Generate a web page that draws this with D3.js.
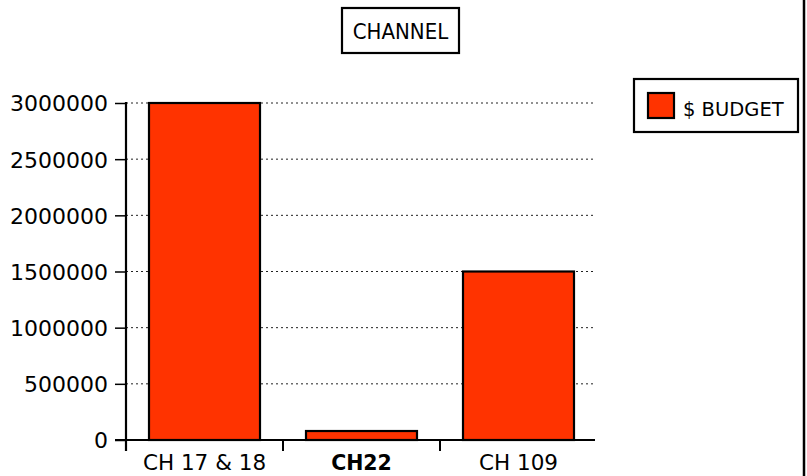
<!DOCTYPE html>
<html><head><meta charset="utf-8">
<script src="https://cdn.jsdelivr.net/npm/d3@7"></script>
<style>
html,body{margin:0;padding:0;background:#fff;}
svg{display:block;font-family:"DejaVu Sans",Verdana,sans-serif;}
</style></head>
<body>
<script>
const categories = ["CH 17 & 18", "CH22", "CH 109"];
const budget = [3000000, 80000, 1500000];
const yTicks = [0, 500000, 1000000, 1500000, 2000000, 2500000, 3000000];
const seriesName = "$ BUDGET";
const title = "CHANNEL";

const W = 807, H = 476;
const svg = d3.select("body").append("svg").attr("width", W).attr("height", H);

const x = d3.scaleBand().domain(categories).range([126, 597]).paddingInner(0.293).paddingOuter(0.1465);
const y = d3.scaleLinear().domain([0, 3000000]).range([440, 103]);

// gridlines
svg.append("g").selectAll("line").data(yTicks.filter(d => d > 0)).join("line")
  .attr("x1", 126).attr("x2", 595)
  .attr("y1", d => y(d)).attr("y2", d => y(d))
  .attr("stroke", "#222").attr("stroke-width", 1).attr("stroke-dasharray", "2,3");

// bars
svg.append("g").selectAll("rect").data(budget).join("rect")
  .attr("x", (d, i) => x(categories[i]))
  .attr("width", x.bandwidth())
  .attr("y", d => y(d))
  .attr("height", d => y(0) - y(d))
  .attr("fill", "#FF3300").attr("stroke", "#000").attr("stroke-width", 2.2);

// y axis
const yAxis = svg.append("g").attr("transform", "translate(126,0)")
  .call(d3.axisLeft(y).tickValues(yTicks).tickFormat(d3.format("d")).tickSize(11).tickPadding(7));
yAxis.select(".domain").remove();
yAxis.selectAll(".tick line").attr("stroke", "#000").attr("stroke-width", 1.5);
yAxis.selectAll(".tick text").attr("font-family", "DejaVu Sans").attr("font-size", 22).attr("fill", "#000").attr("dy", "0.36em");
svg.append("line").attr("x1", 126).attr("x2", 126).attr("y1", 102).attr("y2", 451)
  .attr("stroke", "#000").attr("stroke-width", 2.2);

// x axis
svg.append("line").attr("x1", 115).attr("x2", 595).attr("y1", y(0)).attr("y2", y(0))
  .attr("stroke", "#000").attr("stroke-width", 2);
const step = x.step();
const bounds = categories.map((c, i) => x(c) - x.paddingInner() * step / 2).slice(1);
svg.append("g").selectAll("line").data(bounds).join("line")
  .attr("x1", d => d).attr("x2", d => d).attr("y1", y(0)).attr("y2", 451)
  .attr("stroke", "#000").attr("stroke-width", 2);
const xAxis = svg.append("g").attr("transform", `translate(0,${y(0)})`)
  .call(d3.axisBottom(x).tickSize(0).tickPadding(0));
xAxis.select(".domain").remove();
xAxis.selectAll(".tick text")
  .attr("y", 30).attr("dy", 0)
  .attr("font-family", "DejaVu Sans")
  .attr("font-weight", d => d === "CH22" ? "bold" : "normal")
  .attr("font-size", d => d === "CH22" ? 20.5 : 21.5)
  .attr("fill", "#000");

// title
svg.append("rect").attr("x", 342).attr("y", 8).attr("width", 117).attr("height", 45)
  .attr("fill", "#fff").attr("stroke", "#000").attr("stroke-width", 2.2);
svg.append("text").attr("x", 400.5).attr("y", 39).attr("text-anchor", "middle")
  .attr("font-family", "DejaVu Sans Condensed, DejaVu Sans").attr("font-stretch", "condensed")
  .attr("font-size", 22).attr("fill", "#000").text(title);

// legend
svg.append("rect").attr("x", 634).attr("y", 79).attr("width", 164).attr("height", 53)
  .attr("fill", "#fff").attr("stroke", "#000").attr("stroke-width", 2.2);
svg.append("rect").attr("x", 648).attr("y", 93).attr("width", 26).attr("height", 25)
  .attr("fill", "#FF3300").attr("stroke", "#000").attr("stroke-width", 2.2);
svg.append("text").attr("x", 683).attr("y", 116)
  .attr("font-family", "DejaVu Sans").attr("font-size", 19.5).attr("fill", "#000").text(seriesName);

// right border line
svg.append("line").attr("x1", 804).attr("x2", 804).attr("y1", 0).attr("y2", H)
  .attr("stroke", "#000").attr("stroke-width", 2.5);
</script>
</body></html>
